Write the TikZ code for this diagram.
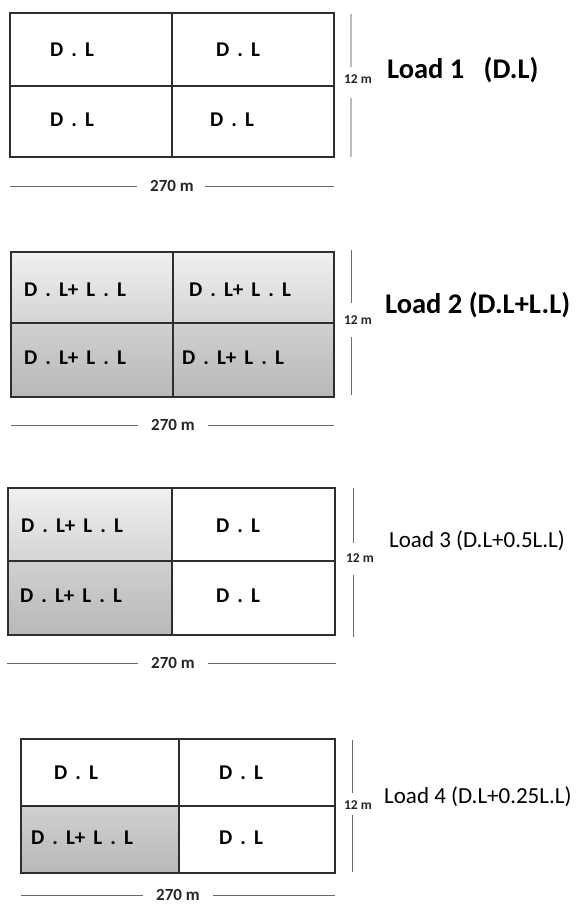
\documentclass[tikz,border=0pt]{standalone}
\usepackage{fontspec}
\setmainfont{Carlito}
\newfontfamily\cellfont[WordSpace=1.7]{Carlito}
\definecolor{outl}{HTML}{2E2E2E}
\definecolor{dimgray}{HTML}{6A6A6A}
\definecolor{lightdim}{HTML}{BDBDBD}
\definecolor{topA}{HTML}{F0F0F0}
\definecolor{topB}{HTML}{D4D4D4}
\definecolor{botA}{HTML}{D0D0D0}
\definecolor{botB}{HTML}{B8B8B8}
\tikzset{
  cell/.style={font=\cellfont\bfseries\fontsize{21}{24}\selectfont, text=black, inner sep=0pt},
  loadbig/.style={font=\bfseries\fontsize{28.5}{32}\selectfont, anchor=west, inner sep=0pt},
  loadsmall/.style={font=\fontsize{23}{26}\selectfont, anchor=west, inner sep=0pt},
  twelve/.style={font=\bfseries\fontsize{13.5}{15}\selectfont, inner sep=0pt, text=black!85},
  widthtxt/.style={font=\bfseries\fontsize{17}{19}\selectfont, inner sep=0pt, text=black!85},
  frame/.style={draw=outl, line width=1.6pt},
  divider/.style={draw=outl, line width=2.2pt},
  thindiv/.style={draw=outl, line width=1.3pt},
  dimline/.style={draw=dimgray, line width=0.9pt},
  sideline/.style={draw=dimgray, line width=1pt},
  sidelight/.style={draw=lightdim, line width=2pt}
}
\begin{document}
\begin{tikzpicture}[x=1pt,y=-1pt]
\useasboundingbox[fill=white] (0,0) rectangle (576,905);

% ---------------- Panel 1 ----------------
\draw[frame] (10,13) rectangle (334,157);
\draw[divider] (172,13) -- (172,157);
\draw[divider] (10,86) -- (334,86);
\node[cell] (p1a) at (72,50) {D . L};
\node[cell] (p1b) at (238,50) {D . L};
\node[cell] (p1c) at (72,120) {D . L};
\node[cell] (p1d) at (232,120) {D . L};
\node[twelve] (p1h) at (358,79) {12 m};
\coordinate (p1s1) at (351,14);
\coordinate (p1s2) at (351,67);
\coordinate (p1s3) at (351,98);
\coordinate (p1s4) at (351,157);
\draw[sidelight] (p1s1) -- (p1s2);
\draw[sidelight] (p1s3) -- (p1s4);
\node[loadbig] (p1load) at (387,70) {Load 1\ \ \ (D.L)};
\node[widthtxt] (p1w) at (172,186) {270 m};
\coordinate (p1l) at (10,186);
\coordinate (p1r) at (334,186);
\draw[dimline] (p1l) -- ([xshift=-13pt]p1w.west);
\draw[dimline] ([xshift=11pt]p1w.east) -- (p1r);

% ---------------- Panel 2 ----------------
\shade[top color=topA, bottom color=topB] (11,252) rectangle (334,323);
\shade[top color=botA, bottom color=botB] (11,323) rectangle (334,397);
\draw[frame] (11,252) rectangle (334,397);
\draw[divider] (173,252) -- (173,397);
\draw[divider] (11,323) -- (334,323);
\node[cell] (p2a) at (75,290) {D . L+ L . L};
\node[cell] (p2b) at (240,290) {D . L+ L . L};
\node[cell] (p2c) at (75,358) {D . L+ L . L};
\node[cell] (p2d) at (233,358) {D . L+ L . L};
\node[twelve] (p2h) at (358,320) {12 m};
\coordinate (p2s1) at (351,250);
\coordinate (p2s2) at (351,303);
\coordinate (p2s3) at (351,337);
\coordinate (p2s4) at (351,395);
\draw[sideline] (p2s1) -- (p2s2);
\draw[sideline] (p2s3) -- (p2s4);
\node[loadbig] (p2load) at (385,305) {Load 2 (D.L+L.L)};
\node[widthtxt] (p2w) at (173,425) {270 m};
\coordinate (p2l) at (11,425);
\coordinate (p2r) at (334,425);
\draw[dimline] (p2l) -- ([xshift=-13pt]p2w.west);
\draw[dimline] ([xshift=13pt]p2w.east) -- (p2r);

% ---------------- Panel 3 ----------------
\shade[top color=topA, bottom color=topB] (8,488) rectangle (172,561);
\shade[top color=botA, bottom color=botB] (8,561) rectangle (172,635);
\draw[frame] (8,488) rectangle (335,635);
\draw[divider] (172,488) -- (172,635);
\draw[divider] (8,561) -- (172,561);
\draw[thindiv] (172,561) -- (335,561);
\node[cell] (p3a) at (72,526) {D . L+ L . L};
\node[cell] (p3b) at (238,526) {D . L};
\node[cell] (p3c) at (71,596) {D . L+ L . L};
\node[cell] (p3d) at (238,596) {D . L};
\node[twelve] (p3h) at (360,558) {12 m};
\coordinate (p3s1) at (353,488);
\coordinate (p3s2) at (353,543);
\coordinate (p3s3) at (353,575);
\coordinate (p3s4) at (353,637);
\draw[sideline] (p3s1) -- (p3s2);
\draw[sideline] (p3s3) -- (p3s4);
\node[loadsmall] (p3load) at (389,541) {Load 3 (D.L+0.5L.L)};
\node[widthtxt] (p3w) at (173,663) {270 m};
\coordinate (p3l) at (7,663);
\coordinate (p3r) at (336,663);
\draw[dimline] (p3l) -- ([xshift=-13pt]p3w.west);
\draw[dimline] ([xshift=13pt]p3w.east) -- (p3r);

% ---------------- Panel 4 ----------------
\shade[top color=botA, bottom color=botB] (21,806) rectangle (179,873);
\draw[frame] (21,739) rectangle (335,873);
\draw[thindiv] (179,739) -- (179,873);
\draw[divider] (21,806) -- (179,806);
\draw[thindiv] (179,806) -- (335,806);
\node[cell] (p4a) at (76,773) {D . L};
\node[cell] (p4b) at (241,773) {D . L};
\node[cell] (p4c) at (82,838) {D . L+ L . L};
\node[cell] (p4d) at (241,838) {D . L};
\node[twelve] (p4h) at (358,805) {12 m};
\coordinate (p4s1) at (352,740);
\coordinate (p4s2) at (352,793);
\coordinate (p4s3) at (352,815);
\coordinate (p4s4) at (352,872);
\draw[sideline] (p4s1) -- (p4s2);
\draw[sideline] (p4s3) -- (p4s4);
\node[loadsmall] (p4load) at (384,797) {Load 4 (D.L+0.25L.L)};
\node[widthtxt] (p4w) at (178,895) {270 m};
\coordinate (p4l) at (21,895);
\coordinate (p4r) at (335,895);
\draw[dimline] (p4l) -- ([xshift=-13pt]p4w.west);
\draw[dimline] ([xshift=13pt]p4w.east) -- (p4r);
\end{tikzpicture}
\end{document}
